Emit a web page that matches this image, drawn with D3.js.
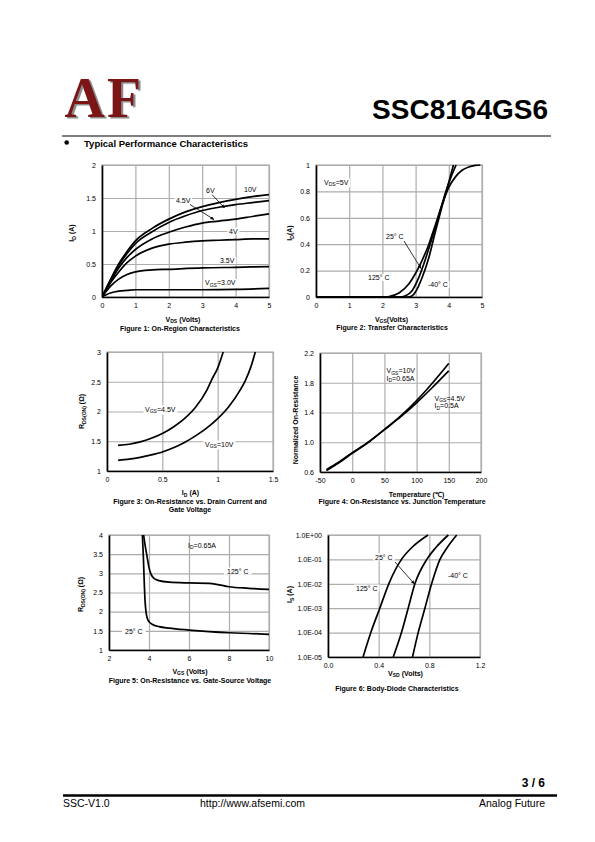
<!DOCTYPE html>
<html>
<head>
<meta charset="utf-8">
<script src="https://cdn.jsdelivr.net/npm/d3@7"></script>
<style>
  html, body { margin: 0; padding: 0; background: #fff; }
  svg { display: block; }
  text { font-family: "Liberation Sans", Arial, sans-serif; fill: #000; }
</style>
</head>
<body>
<script>
// ---------------- DATA ----------------
// Figure 1: On-Region Characteristics (VDS, ID)
const fig1_VGS10 = [[0,0],[0.25,0.26],[0.5,0.5],[0.75,0.69],[1,0.85],[1.5,1.04],[2,1.18],[2.5,1.29],[3,1.37],[3.5,1.43],[4,1.48],[4.5,1.52],[5,1.55]];
const fig1_VGS6  = [[0,0],[0.25,0.25],[0.5,0.48],[0.75,0.66],[1,0.81],[1.5,0.99],[2,1.13],[2.5,1.23],[3,1.31],[3.5,1.36],[4,1.40],[4.5,1.43],[5,1.46]];
const fig1_VGS45 = [[0,0],[0.25,0.23],[0.5,0.44],[0.75,0.6],[1,0.72],[1.5,0.88],[2,0.98],[2.5,1.06],[3,1.12],[3.5,1.15],[4,1.18],[4.5,1.22],[5,1.26]];
const fig1_VGS4  = [[0,0],[0.25,0.21],[0.5,0.38],[0.75,0.52],[1,0.62],[1.5,0.74],[2,0.8],[2.5,0.83],[3,0.85],[3.5,0.86],[4,0.87],[4.5,0.88],[5,0.88]];
const fig1_VGS35 = [[0,0],[0.25,0.16],[0.5,0.27],[0.75,0.34],[1,0.38],[1.5,0.41],[2,0.42],[3,0.44],[4,0.45],[5,0.46]];
const fig1_VGS3  = [[0,0],[0.25,0.06],[0.5,0.09],[0.75,0.1],[1,0.11],[2,0.11],[3,0.11],[4,0.115],[5,0.13]];
const fig1_xTicks = [0,1,2,3,4,5];
const fig1_yTicks = [0,0.5,1,1.5,2];

// Figure 2: Transfer Characteristics (VGS, ID)
const fig2_T125 = [[0,0],[2.0,0],[2.2,0.004],[2.5,0.03],[2.8,0.1],[3.0,0.18],[3.2,0.28],[3.4,0.4],[3.6,0.55],[3.8,0.7],[4.0,0.83],[4.2,0.91],[4.4,0.96],[4.6,0.985],[4.8,0.997],[4.95,1.0]];
const fig2_T25  = [[0,0],[2.5,0],[2.7,0.01],[2.9,0.05],[3.1,0.15],[3.3,0.29],[3.5,0.45],[3.7,0.62],[3.9,0.79],[4.1,0.93],[4.22,1.0]];
const fig2_Tm40 = [[0,0],[2.75,0],[2.9,0.01],[3.0,0.04],[3.2,0.15],[3.4,0.3],[3.6,0.5],[3.8,0.69],[4.0,0.87],[4.14,1.0]];
const fig2_xTicks = [0,1,2,3,4,5];
const fig2_yTicks = [0,0.2,0.4,0.6,0.8,1];

// Figure 3: On-Resistance vs Drain Current (ID, RDS(on))
const fig3_VGS45 = [[0.1,1.43],[0.2,1.45],[0.3,1.49],[0.4,1.55],[0.5,1.63],[0.6,1.74],[0.7,1.88],[0.8,2.07],[0.9,2.35],[0.95,2.55],[1.0,2.73],[1.05,3.0]];
const fig3_VGS10 = [[0.1,1.18],[0.2,1.2],[0.3,1.23],[0.4,1.27],[0.5,1.32],[0.6,1.39],[0.7,1.48],[0.8,1.59],[0.9,1.72],[1.0,1.88],[1.1,2.08],[1.2,2.35],[1.25,2.52],[1.3,2.75],[1.34,3.0]];
const fig3_xTicks = [0,0.5,1,1.5];
const fig3_yTicks = [1,1.5,2,2.5,3];

// Figure 4: Normalized On-Resistance vs Temperature
const fig4_VGS10 = [[-40,0.62],[-25,0.7],[0,0.85],[25,1.0],[50,1.17],[75,1.35],[100,1.56],[125,1.8],[150,2.06]];
const fig4_VGS45 = [[-40,0.63],[-25,0.71],[0,0.86],[25,1.0],[50,1.17],[75,1.34],[100,1.53],[125,1.74],[150,1.96]];
const fig4_xTicks = [-50,0,50,100,150,200];
const fig4_yTicks = [0.6,1.0,1.4,1.8,2.2];

// Figure 5: On-Resistance vs Gate-Source Voltage
const fig5_T125 = [[3.73,4.0],[3.8,3.75],[3.9,3.45],[4.0,3.15],[4.1,2.98],[4.25,2.87],[4.5,2.81],[5,2.77],[6,2.75],[7,2.74],[7.5,2.7],[8,2.65],[9,2.61],[10,2.58]];
const fig5_T25  = [[3.67,4.0],[3.72,3.4],[3.76,2.8],[3.8,2.3],[3.85,2.0],[3.92,1.82],[4.0,1.74],[4.2,1.66],[4.5,1.61],[5,1.57],[6,1.52],[7,1.48],[8,1.45],[9,1.43],[10,1.41]];
const fig5_xTicks = [2,4,6,8,10];
const fig5_yTicks = [1,1.5,2,2.5,3,3.5,4];

// Figure 6: Body-Diode Characteristics (VSD, IS log)
const fig6_T125 = [[0.277,1e-5],[0.338,1e-4],[0.409,1e-3],[0.48,1e-2],[0.58,1e-1],[0.66,0.3],[0.79,1]];
const fig6_T25  = [[0.515,1e-5],[0.58,1e-4],[0.633,1e-3],[0.686,1e-2],[0.78,1e-1],[0.85,0.3],[0.95,1]];
const fig6_Tm40 = [[0.667,1e-5],[0.712,1e-4],[0.765,1e-3],[0.818,1e-2],[0.884,1e-1],[0.94,0.3],[1.016,1]];
const fig6_xTicks = [0,0.4,0.8,1.2];
const fig6_xTickLabels = ["0.0","0.4","0.8","1.2"];
const fig6_yTicks = [1,1e-1,1e-2,1e-3,1e-4,1e-5];
const fig6_yTickLabels = ["1.0E+00","1.0E-01","1.0E-02","1.0E-03","1.0E-04","1.0E-05"];

// ---------------- DRAWING ----------------
const W = 595, H = 842;
const svg = d3.select("body").append("svg").attr("width", W).attr("height", H);
const defs = svg.append("defs");
defs.append("marker").attr("id","arr").attr("viewBox","0 0 10 10").attr("refX",9).attr("refY",5)
  .attr("markerWidth",5).attr("markerHeight",5).attr("orient","auto")
  .append("path").attr("d","M0,1 L10,5 L0,9 z").attr("fill","#000");
const shadow = defs.append("filter").attr("id","logoShadow").attr("x","-10%").attr("y","-10%").attr("width","130%").attr("height","130%");
shadow.append("feDropShadow").attr("dx",2).attr("dy",1.5).attr("stdDeviation",0.2)
  .attr("flood-color","#8c8c8c").attr("flood-opacity",1);

const GRID = "#adadad";
const FS = 7;

function rich(g, x, y, parts, opts) {
  const size = opts.size || FS;
  const t = g.append("text").attr("x", x).attr("y", y)
    .attr("font-size", size)
    .attr("font-weight", opts.bold ? "bold" : "normal")
    .attr("text-anchor", opts.anchor || "start");
  if (opts.rotate) t.attr("transform", `rotate(-90,${x},${y})`);
  let shift = 0;
  parts.forEach(p => {
    const sub = Array.isArray(p);
    const s = t.append("tspan").text(sub ? p[0] : p);
    const target = sub ? size * 0.28 : 0;
    if (target !== shift) { s.attr("dy", target - shift); shift = target; }
    if (sub) s.attr("font-size", size * 0.72);
  });
  return t;
}
function withBg(t, pad) {
  const b = t.node().getBBox();
  const p = pad == null ? 1.5 : pad;
  t.node().parentNode.insertBefore(
    d3.create("svg:rect").attr("x", b.x - p).attr("y", b.y).attr("width", b.width + 2*p)
      .attr("height", b.height).attr("fill", "#fff").node(), t.node());
  return t;
}

function panel(cfg) {
  const g = svg.append("g");
  const xs = d3.scaleLinear().domain(cfg.xDomain).range([cfg.x0, cfg.x1]);
  const ys = (cfg.yLog ? d3.scaleLog() : d3.scaleLinear()).domain(cfg.yDomain).range([cfg.y1, cfg.y0]);
  const w = cfg.x1 - cfg.x0, h = cfg.y1 - cfg.y0;
  // grid
  g.append("g").attr("transform", `translate(0,${cfg.y1})`)
    .call(d3.axisBottom(xs).tickValues(cfg.xTicks).tickSize(-h).tickFormat(""))
    .call(s => s.select(".domain").remove())
    .selectAll("line").attr("stroke", GRID).attr("stroke-width", 1.2);
  g.append("g").attr("transform", `translate(${cfg.x0},0)`)
    .call(d3.axisLeft(ys).tickValues(cfg.yTicks).tickSize(-w).tickFormat(""))
    .call(s => s.select(".domain").remove())
    .selectAll("line").attr("stroke", GRID).attr("stroke-width", 1.2);
  g.append("rect").attr("x", cfg.x0).attr("y", cfg.y0).attr("width", w).attr("height", h)
    .attr("fill", "none").attr("stroke", GRID).attr("stroke-width", 1.2);
  // axes
  const xa = g.append("g").attr("transform", `translate(0,${cfg.y1})`)
    .call(d3.axisBottom(xs).tickValues(cfg.xTicks).tickSize(0).tickPadding(6.5)
      .tickFormat((d, i) => cfg.xLabels ? cfg.xLabels[i] : String(d)));
  xa.select(".domain").attr("stroke", "#000").attr("stroke-width", 1.6);
  xa.selectAll("text").attr("font-size", FS);
  const ya = g.append("g").attr("transform", `translate(${cfg.x0},0)`)
    .call(d3.axisLeft(ys).tickValues(cfg.yTicks).tickSize(0).tickPadding(6)
      .tickFormat((d, i) => cfg.yLabels ? cfg.yLabels[i] : String(d)));
  ya.select(".domain").attr("stroke", "#000").attr("stroke-width", 1.6);
  ya.selectAll("text").attr("font-size", FS);
  // curves
  const clipId = "clip" + Math.random().toString(36).slice(2);
  defs.append("clipPath").attr("id", clipId).append("rect")
    .attr("x", cfg.x0).attr("y", cfg.y0 - 1).attr("width", w + 1).attr("height", h + 2);
  const line = d3.line().x(d => xs(d[0])).y(d => ys(d[1])).curve(cfg.curve || d3.curveMonotoneX);
  const cg = g.append("g").attr("clip-path", `url(#${clipId})`);
  cfg.series.forEach(s => {
    cg.append("path").attr("d", line(s)).attr("fill", "none").attr("stroke", "#000")
      .attr("stroke-width", 1.7).attr("stroke-linejoin", "round");
  });
  return { g, xs, ys };
}

// ---- Header ----
svg.append("text").attr("x", 64.5).attr("y", 117).text("AF")
  .style("font-family", "'Liberation Serif', 'DejaVu Serif', serif").attr("font-weight", "bold")
  .attr("font-size", 56).attr("letter-spacing", 2).style("fill", "#7b1416")
  .attr("filter", "url(#logoShadow)");
svg.append("text").attr("x", 548).attr("y", 119).attr("text-anchor", "end")
  .attr("font-size", 28).attr("font-weight", "bold").text("SSC8164GS6");
svg.append("line").attr("x1", 62).attr("x2", 551).attr("y1", 136).attr("y2", 136)
  .attr("stroke", "#000").attr("stroke-width", 1.2);
svg.append("circle").attr("cx", 66.7).attr("cy", 142.5).attr("r", 2.3).attr("fill", "#000");
svg.append("text").attr("x", 84).attr("y", 146.5).attr("font-size", 9.5).attr("font-weight", "bold")
  .text("Typical Performance Characteristics");

// ---- Figure 1 ----
(function () {
  const p = panel({ x0: 102, x1: 269, y0: 165, y1: 297, xDomain: [0, 5], yDomain: [0, 2],
    xTicks: fig1_xTicks, yTicks: fig1_yTicks,
    series: [fig1_VGS10, fig1_VGS6, fig1_VGS45, fig1_VGS4, fig1_VGS35, fig1_VGS3] });
  const g = p.g;
  rich(g, 244, 191.5, ["10V"], {});
  rich(g, 206, 192.5, ["6V"], {});
  withBg(rich(g, 176, 203, ["4.5V"], {}));
  withBg(rich(g, 229, 233.5, ["4V"], {}));
  withBg(rich(g, 220, 263, ["3.5V"], {}));
  withBg(rich(g, 205, 285, ["V", ["GS"], "=3.0V"], {}));
  g.append("line").attr("x1", 190).attr("y1", 204.5).attr("x2", 214).attr("y2", 219.5)
    .attr("stroke", "#000").attr("stroke-width", 0.8).attr("marker-end", "url(#arr)");
  g.append("line").attr("x1", 212).attr("y1", 194.5).attr("x2", 224.5).attr("y2", 208)
    .attr("stroke", "#000").attr("stroke-width", 0.8).attr("marker-end", "url(#arr)");
  rich(g, 74, 233, ["I", ["D"], " (A)"], { bold: true, rotate: true, anchor: "middle" });
  rich(g, 183, 321.5, ["V", ["DS"], " (Volts)"], { bold: true, anchor: "middle" });
  rich(g, 180, 330.5, ["Figure 1: On-Region Characteristics"], { bold: true, anchor: "middle" });
})();

// ---- Figure 2 ----
(function () {
  const p = panel({ x0: 316, x1: 482, y0: 165, y1: 297, xDomain: [0, 5], yDomain: [0, 1],
    xTicks: fig2_xTicks, yTicks: fig2_yTicks,
    series: [fig2_T125, fig2_T25, fig2_Tm40] });
  const g = p.g;
  withBg(rich(g, 324, 184.5, ["V", ["DS"], "=5V"], {}));
  withBg(rich(g, 386, 239, ["25° C"], {}));
  withBg(rich(g, 368, 280, ["125° C"], {}));
  withBg(rich(g, 428, 287, ["-40° C"], {}));
  g.append("line").attr("x1", 404).attr("y1", 241).attr("x2", 421).attr("y2", 268.5)
    .attr("stroke", "#000").attr("stroke-width", 0.8).attr("marker-end", "url(#arr)");
  rich(g, 292, 233, ["I", ["D"], "(A)"], { bold: true, rotate: true, anchor: "middle" });
  rich(g, 391.5, 321.5, ["V", ["GS"], "(Volts)"], { bold: true, anchor: "middle" });
  rich(g, 392, 330, ["Figure 2: Transfer Characteristics"], { bold: true, anchor: "middle" });
})();

// ---- Figure 3 ----
(function () {
  const p = panel({ x0: 107, x1: 273, y0: 352, y1: 471, xDomain: [0, 1.5], yDomain: [1, 3],
    xTicks: fig3_xTicks, yTicks: fig3_yTicks,
    series: [fig3_VGS45, fig3_VGS10] });
  const g = p.g;
  withBg(rich(g, 145, 411.5, ["V", ["GS"], "=4.5V"], {}));
  withBg(rich(g, 205, 446.5, ["V", ["GS"], "=10V"], {}));
  rich(g, 84, 411.5, ["R", ["DS(ON)"], " (Ω)"], { bold: true, rotate: true, anchor: "middle" });
  rich(g, 190.5, 495, ["I", ["D"], " (A)"], { bold: true, anchor: "middle" });
  rich(g, 190, 503.5, ["Figure 3: On-Resistance vs. Drain Current and"], { bold: true, anchor: "middle" });
  rich(g, 190, 512, ["Gate Voltage"], { bold: true, anchor: "middle" });
})();

// ---- Figure 4 ----
(function () {
  const p = panel({ x0: 320, x1: 481, y0: 353, y1: 472, xDomain: [-50, 200], yDomain: [0.6, 2.2],
    xTicks: fig4_xTicks, yTicks: fig4_yTicks,
    yLabels: fig4_yTicks.map(d => d.toFixed(1)),
    series: [fig4_VGS10, fig4_VGS45] });
  const g = p.g;
  rich(g, 386.5, 373, ["V", ["GS"], "=10V"], {});
  rich(g, 386.5, 380.5, ["I", ["D"], "=0.65A"], {});
  rich(g, 434.5, 400.5, ["V", ["GS"], "=4.5V"], {});
  rich(g, 434.5, 408, ["I", ["D"], "=0.5A"], {});
  rich(g, 298, 420, ["Normalized On-Resistance"], { bold: true, rotate: true, anchor: "middle" });
  rich(g, 416.5, 496.5, ["Temperature (℃)"], { bold: true, anchor: "middle" });
  rich(g, 402, 503.5, ["Figure 4: On-Resistance vs. Junction Temperature"], { bold: true, anchor: "middle" });
})();

// ---- Figure 5 ----
(function () {
  const p = panel({ x0: 109, x1: 269, y0: 535, y1: 650, xDomain: [2, 10], yDomain: [1, 4],
    xTicks: fig5_xTicks, yTicks: fig5_yTicks,
    series: [fig5_T125, fig5_T25] });
  const g = p.g;
  rich(g, 188, 547.5, ["I", ["D"], "=0.65A"], {});
  withBg(rich(g, 227, 573.5, ["125° C"], {}), 3);
  withBg(rich(g, 125, 633.5, ["25° C"], {}), 3);
  rich(g, 83, 594.5, ["R", ["DS(ON)"], " (Ω)"], { bold: true, rotate: true, anchor: "middle" });
  rich(g, 190, 673.5, ["V", ["GS"], " (Volts)"], { bold: true, anchor: "middle" });
  rich(g, 190, 682.5, ["Figure 5: On-Resistance vs. Gate-Source Voltage"], { bold: true, anchor: "middle" });
})();

// ---- Figure 6 ----
(function () {
  const p = panel({ x0: 328, x1: 480, y0: 535, y1: 657, xDomain: [0, 1.2], yDomain: [1e-5, 1], yLog: true,
    xTicks: fig6_xTicks, yTicks: fig6_yTicks,
    xLabels: fig6_xTickLabels, yLabels: fig6_yTickLabels,
    series: [fig6_T125, fig6_T25, fig6_Tm40] });
  const g = p.g;
  withBg(rich(g, 375, 559.5, ["25° C"], {}), 2);
  withBg(rich(g, 356, 590.5, ["125° C"], {}), 2);
  withBg(rich(g, 448, 578, ["-40° C"], {}), 2);
  g.append("line").attr("x1", 395).attr("y1", 562).attr("x2", 414.5).attr("y2", 584)
    .attr("stroke", "#000").attr("stroke-width", 0.8).attr("marker-end", "url(#arr)");
  rich(g, 292, 594.5, ["I", ["S"], " (A)"], { bold: true, rotate: true, anchor: "middle" });
  rich(g, 405.5, 675.5, ["V", ["SD"], " (Volts)"], { bold: true, anchor: "middle" });
  rich(g, 397, 690.5, ["Figure 6: Body-Diode Characteristics"], { bold: true, anchor: "middle" });
})();

// ---- Footer ----
svg.append("text").attr("x", 545).attr("y", 787).attr("text-anchor", "end")
  .attr("font-size", 12).attr("font-weight", "bold").text("3 / 6");
svg.append("line").attr("x1", 63).attr("x2", 557).attr("y1", 795.5).attr("y2", 795.5)
  .attr("stroke", "#000").attr("stroke-width", 2.5);
svg.append("text").attr("x", 63).attr("y", 807).attr("font-size", 10.5).text("SSC-V1.0");
svg.append("text").attr("x", 200).attr("y", 807).attr("font-size", 10.5).text("http://www.afsemi.com");
svg.append("text").attr("x", 545).attr("y", 807).attr("text-anchor", "end").attr("font-size", 10.5).text("Analog Future");
</script>
</body>
</html>
